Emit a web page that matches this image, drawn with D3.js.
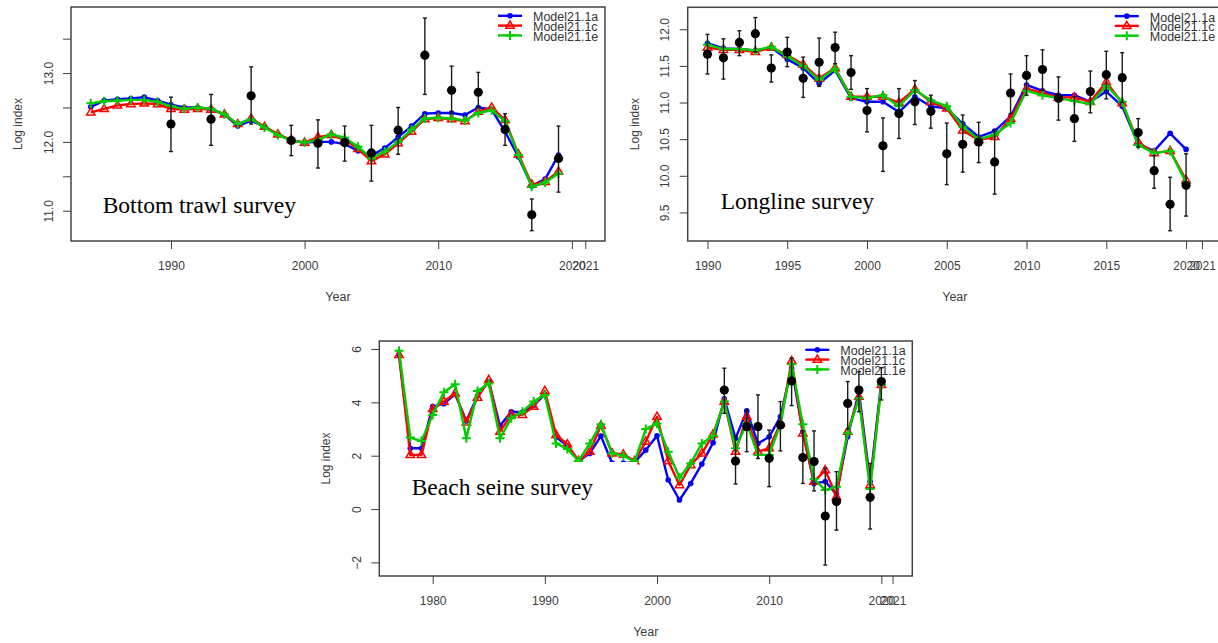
<!DOCTYPE html>
<html>
<head>
<meta charset="utf-8">
<script src="https://cdn.jsdelivr.net/npm/d3@7"></script>
<style>
  body { margin: 0; background: #fff; }
  text { font-family: "Liberation Sans", Arial, sans-serif; }
</style>
</head>
<body>
<div id="chart"></div>
<script>
// ---- data ----
var seriesNames = ["Model21.1a", "Model21.1c", "Model21.1e"];
var seriesColors = ["#0000ff", "#ff0000", "#00cc00"];

// bottom trawl survey
var btYears = [1984,1985,1986,1987,1988,1989,1990,1991,1992,1993,1994,1995,1996,1997,1998,1999,
  2000,2001,2002,2003,2004,2005,2006,2007,2008,2009,2010,2011,2012,2013,2014,2015,2016,2017,2018,2019];
var btModelA = [12.51,12.60,12.62,12.63,12.65,12.60,12.54,12.50,12.50,12.48,12.40,12.23,12.31,12.22,12.11,12.02,
  11.99,12.00,12.00,11.97,11.87,11.80,11.91,12.07,12.23,12.41,12.42,12.42,12.39,12.50,12.47,12.15,11.78,11.36,11.46,11.81];
var btModelC = [12.43,12.48,12.53,12.55,12.56,12.55,12.48,12.47,12.48,12.47,12.40,12.26,12.34,12.22,12.11,12.03,
  11.99,12.07,12.10,12.03,11.90,11.72,11.82,11.98,12.15,12.33,12.35,12.33,12.30,12.44,12.50,12.32,11.82,11.38,11.42,11.57];
var btModelE = [12.56,12.59,12.60,12.61,12.61,12.58,12.52,12.48,12.50,12.48,12.40,12.26,12.33,12.21,12.10,12.02,
  11.99,12.03,12.11,12.06,11.93,11.76,11.86,12.00,12.18,12.34,12.35,12.34,12.31,12.42,12.46,12.30,11.81,11.35,11.41,11.54];
var btObsYears = [1990,1993,1996,1999,2001,2003,2005,2007,2009,2011,2013,2015,2017,2019];
var btObs = [12.26,12.33,12.67,12.02,11.98,11.99,11.84,12.17,13.26,12.75,12.72,12.18,10.94,11.76];
var btObsHi = [12.65,12.69,13.09,12.24,12.32,12.23,12.24,12.50,13.80,13.10,13.01,12.41,11.17,12.23];
var btObsLo = [11.86,11.95,12.26,11.80,11.62,11.72,11.43,11.82,12.69,12.42,12.50,11.95,10.71,11.27];
var btXTicks = [1990, 2000, 2010, 2020, 2021];
var btYTicks = [11, 11.5, 12, 12.5, 13, 13.5];

// longline survey
var llYears = [1990,1991,1992,1993,1994,1995,1996,1997,1998,1999,2000,2001,2002,2003,2004,2005,2006,2007,2008,2009,
  2010,2011,2012,2013,2014,2015,2016,2017,2018,2019,2020];
var llModelA = [11.81,11.74,11.73,11.71,11.75,11.59,11.47,11.26,11.44,11.06,11.01,11.01,10.87,11.08,10.95,10.92,
  10.71,10.53,10.61,10.81,11.24,11.16,11.10,11.10,11.01,11.15,10.95,10.43,10.34,10.58,10.36];
var llModelC = [11.75,11.72,11.72,11.69,11.75,11.65,11.52,11.33,11.47,11.08,11.08,11.08,11.00,11.18,11.01,10.92,
  10.62,10.49,10.53,10.78,11.19,11.13,11.07,11.07,11.01,11.28,10.99,10.46,10.31,10.34,9.94];
var llModelE = [11.79,11.73,11.73,11.71,11.76,11.63,11.50,11.31,11.46,11.08,11.06,11.10,10.95,11.17,11.03,10.95,
  10.67,10.50,10.56,10.72,11.16,11.10,11.06,11.02,10.98,11.23,11.01,10.42,10.31,10.34,9.91];
var llObsYears = llYears;
var llObs = [11.66,11.61,11.82,11.94,11.47,11.69,11.33,11.55,11.75,11.41,10.89,10.41,10.85,11.01,10.88,10.30,
  10.43,10.46,10.19,11.13,11.37,11.45,11.06,10.78,11.15,11.38,11.34,10.59,10.07,9.61,9.87];
var llObsHi = [11.93,11.87,11.98,12.16,11.65,11.89,11.62,11.88,11.96,11.64,11.19,10.79,11.19,11.30,11.10,10.72,
  10.83,10.73,10.62,11.39,11.64,11.72,11.35,11.08,11.43,11.70,11.68,10.78,10.28,9.98,10.30];
var llObsLo = [11.39,11.32,11.64,11.69,11.28,11.49,11.07,11.22,11.53,11.18,10.60,10.06,10.51,10.70,10.65,9.88,
  10.05,10.18,9.75,10.85,11.10,11.17,10.76,10.47,10.86,11.05,11.00,10.39,9.83,9.25,9.45];
var llXTicks = [1990, 1995, 2000, 2005, 2010, 2015, 2020, 2021];
var llYTicks = [9.5, 10, 10.5, 11, 11.5, 12];

// beach seine survey
var bsYears = [1977,1978,1979,1980,1981,1982,1983,1984,1985,1986,1987,1988,1989,1990,1991,1992,1993,1994,1995,1996,
  1997,1998,1999,2000,2001,2002,2003,2004,2005,2006,2007,2008,2009,2010,2011,2012,2013,2014,2015,2016,2017,2018,2019,2020];
var bsModelA = [5.78,2.28,2.28,3.84,3.95,4.30,3.30,4.25,4.78,3.12,3.65,3.63,3.88,4.30,2.70,2.37,1.80,2.08,2.74,1.72,
  1.72,1.76,2.21,2.75,1.09,0.34,0.96,1.69,2.49,4.13,2.65,3.68,2.46,2.71,3.46,5.28,2.90,0.96,1.03,0.55,2.71,4.40,1.03,4.78];
var bsModelC = [5.78,2.03,2.03,3.75,4.03,4.34,3.25,4.18,4.84,2.90,3.53,3.53,3.84,4.43,2.78,2.43,1.80,2.15,3.13,2.09,
  2.05,1.80,2.53,3.46,1.80,0.90,1.65,2.09,2.80,4.03,2.15,3.46,2.15,2.28,3.21,5.55,2.84,1.03,1.46,0.46,2.90,4.21,0.90,4.65];
var bsModelE = [5.93,2.68,2.55,3.53,4.38,4.68,2.65,4.43,4.71,2.65,3.40,3.65,4.03,4.28,2.46,2.25,1.80,2.46,3.18,2.09,
  2.00,1.78,3.00,3.21,2.15,1.18,1.71,2.46,2.75,4.03,2.28,3.21,2.03,2.03,3.18,5.43,3.18,1.13,0.71,0.84,2.84,4.15,0.75,4.65];
var bsObsYears = [2006,2007,2008,2009,2010,2011,2012,2013,2014,2015,2016,2017,2018,2019,2020];
var bsObs = [4.46,1.80,3.09,3.09,1.90,3.15,4.80,1.93,1.78,-0.26,0.28,3.96,4.46,0.44,4.78];
var bsObsHi = [5.28,2.75,3.71,4.28,2.96,4.03,5.65,2.93,2.93,1.53,1.40,4.78,5.15,1.71,5.30];
var bsObsLo = [3.59,0.94,2.15,1.90,0.84,2.18,3.88,0.96,0.68,-2.10,-0.79,3.00,3.65,-0.75,4.09];
var bsXTicks = [1980, 1990, 2000, 2010, 2020, 2021];
var bsYTicks = [-2, 0, 2, 4, 6];

var svg = d3.select("#chart").append("svg")
    .attr("width", 1218)
    .attr("height", 643)
    .style("background", "#fff");

var axisColor = "#3c3c3c";

function drawPanel(p) {
    var x = d3.scaleLinear().domain(p.xDomain).range([p.left, p.right]);
    var y = d3.scaleLinear().domain(p.yDomain).range([p.bottom, p.top]);
    var g = svg.append("g");

    // x axis (R style, ticks outward, no axis line)
    var xa = g.append("g")
        .attr("transform", "translate(0," + p.bottom + ")")
        .call(d3.axisBottom(x).tickValues(p.xTicks).tickSize(8).tickFormat(d3.format("d")));
    xa.select(".domain").remove();
    xa.selectAll("line").attr("stroke", axisColor);
    xa.selectAll("text").attr("y", 29).attr("dy", 0)
        .attr("fill", axisColor).style("font-size", "12px");

    // y axis with rotated labels
    var ya = g.append("g")
        .attr("transform", "translate(" + p.left + ",0)")
        .call(d3.axisLeft(y).tickValues(p.yTicks).tickSize(8).tickFormat(p.yFormat));
    ya.select(".domain").remove();
    ya.selectAll("line").attr("stroke", axisColor);
    ya.selectAll("text")
        .attr("transform", "rotate(-90)")
        .attr("x", 0).attr("y", -18.5).attr("dy", 0)
        .attr("text-anchor", "middle")
        .attr("fill", axisColor).style("font-size", "12px");

    // axis titles
    g.append("text")
        .attr("x", (p.left + Math.min(p.right, 1218)) / 2 + p.titleShift)
        .attr("y", p.bottom + 60)
        .attr("text-anchor", "middle")
        .attr("fill", axisColor).style("font-size", "12.5px")
        .text("Year");
    g.append("text")
        .attr("transform", "translate(" + (p.left - 49) + "," + ((p.top + p.bottom) / 2) + ") rotate(-90)")
        .attr("text-anchor", "middle")
        .attr("fill", axisColor).style("font-size", "12px")
        .text("Log index");

    // model fits
    var line = d3.line()
        .x(function (d) { return x(d.year); })
        .y(function (d) { return y(d.value); });
    p.models.forEach(function (vals, k) {
        var data = vals.map(function (v, i) { return { year: p.years[i], value: v }; });
        g.append("path")
            .datum(data)
            .attr("fill", "none")
            .attr("stroke", seriesColors[k])
            .attr("stroke-width", 2.4)
            .attr("stroke-linejoin", "round")
            .attr("d", line);
        var pts = g.append("g").selectAll("g").data(data).enter().append("g")
            .attr("transform", function (d) { return "translate(" + x(d.year) + "," + y(d.value) + ")"; });
        drawMarker(pts, k);
    });

    // observed index with error bars
    var obs = p.obs.map(function (v, i) {
        return { year: p.obsYears[i], value: v, hi: p.obsHi[i], lo: p.obsLo[i] };
    });
    var eb = g.append("g").selectAll("g").data(obs).enter().append("g")
        .attr("stroke", "#1a1a1a").attr("stroke-width", 1.4);
    eb.append("line")
        .attr("x1", function (d) { return x(d.year); })
        .attr("x2", function (d) { return x(d.year); })
        .attr("y1", function (d) { return y(d.hi); })
        .attr("y2", function (d) { return y(d.lo); });
    eb.append("line")
        .attr("x1", function (d) { return x(d.year) - 2; })
        .attr("x2", function (d) { return x(d.year) + 2; })
        .attr("y1", function (d) { return y(d.hi); })
        .attr("y2", function (d) { return y(d.hi); });
    eb.append("line")
        .attr("x1", function (d) { return x(d.year) - 2; })
        .attr("x2", function (d) { return x(d.year) + 2; })
        .attr("y1", function (d) { return y(d.lo); })
        .attr("y2", function (d) { return y(d.lo); });
    g.append("g").selectAll("circle").data(obs).enter().append("circle")
        .attr("cx", function (d) { return x(d.year); })
        .attr("cy", function (d) { return y(d.value); })
        .attr("r", 4.6)
        .attr("fill", "#000");

    // survey label on a white patch
    var lab = g.append("text")
        .attr("x", p.labelX).attr("y", p.labelY)
        .style("font-family", "'Liberation Serif', 'Times New Roman', serif")
        .style("font-size", "23.5px")
        .attr("fill", "#000")
        .text(p.label);
    var bb = lab.node().getBBox();
    g.insert("rect", function () { return lab.node(); })
        .attr("x", bb.x - 6).attr("y", p.labelY - 33)
        .attr("width", bb.width + 50).attr("height", 43)
        .attr("fill", "#fff");

    // legend
    var lg = g.append("g").attr("transform", "translate(" + (p.right - 107) + "," + (p.top + 8.8) + ")");
    seriesNames.forEach(function (name, k) {
        var row = lg.append("g").attr("transform", "translate(0," + (k * 9.8) + ")");
        row.append("line").attr("x1", 0).attr("x2", 24)
            .attr("stroke", seriesColors[k]).attr("stroke-width", 2.4);
        drawMarker(row.append("g").attr("transform", "translate(12,0)"), k);
        row.append("text").attr("x", 35).attr("y", 5.5)
            .attr("fill", "#333").style("font-size", "12.5px")
            .text(name);
    });

    // plot frame
    g.append("rect")
        .attr("x", p.left).attr("y", p.top)
        .attr("width", p.right - p.left).attr("height", p.bottom - p.top)
        .attr("fill", "none").attr("stroke", "#444").attr("stroke-width", 1.5);
}

// point symbols: filled circle, open triangle, plus
function drawMarker(sel, k) {
    if (k === 0) {
        sel.append("circle").attr("r", 2.8).attr("fill", seriesColors[0]);
    } else if (k === 1) {
        sel.append("path").attr("d", "M0,-4.6L4.2,2.6L-4.2,2.6Z")
            .attr("fill", "none").attr("stroke", seriesColors[1]).attr("stroke-width", 1.5);
    } else {
        sel.append("path").attr("d", "M-4.5,0H4.5M0,-4.5V4.5")
            .attr("stroke", seriesColors[2]).attr("stroke-width", 2);
    }
}

var intOnly = function (d) { return d % 1 === 0 ? d.toFixed(1) : ""; };

drawPanel({
    left: 71, right: 605, top: 7, bottom: 241, titleShift: 0,
    xDomain: [1982.52, 2022.48], yDomain: [10.56, 13.96],
    xTicks: btXTicks, yTicks: btYTicks, yFormat: intOnly,
    years: btYears, models: [btModelA, btModelC, btModelE],
    obsYears: btObsYears, obs: btObs, obsHi: btObsHi, obsLo: btObsLo,
    label: "Bottom trawl survey", labelX: 102.7, labelY: 213.3
});

drawPanel({
    left: 687.7, right: 1221.8, top: 7.3, bottom: 241, titleShift: 2,
    xDomain: [1988.76, 2022.24], yDomain: [9.11, 12.30],
    xTicks: llXTicks, yTicks: llYTicks, yFormat: function (d) { return d.toFixed(1); },
    years: llYears, models: [llModelA, llModelC, llModelE],
    obsYears: llObsYears, obs: llObs, obsHi: llObsHi, obsLo: llObsLo,
    label: "Longline survey", labelX: 720.7, labelY: 209
});

drawPanel({
    left: 379.3, right: 912.3, top: 341, bottom: 576, titleShift: 0,
    xDomain: [1975.24, 2022.76], yDomain: [-2.51, 6.30],
    xTicks: bsXTicks, yTicks: bsYTicks, yFormat: d3.format("d"),
    years: bsYears, models: [bsModelA, bsModelC, bsModelE],
    obsYears: bsObsYears, obs: bsObs, obsHi: bsObsHi, obsLo: bsObsLo,
    label: "Beach seine survey", labelX: 411.7, labelY: 495
});
</script>
</body>
</html>
